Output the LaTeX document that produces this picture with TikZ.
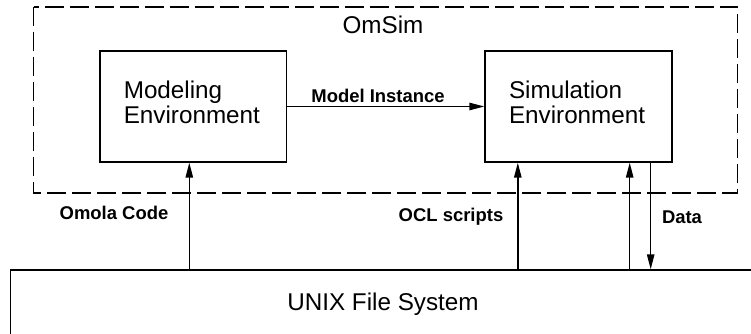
\documentclass[tikz,border=0pt]{standalone}
\usepackage{fontspec}
\setmainfont{Liberation Sans}
\usetikzlibrary{arrows.meta}
\tikzset{
  envS/.style  ={draw=black, line width=0.8pt, align=left, text width=2.78cm, inner xsep=0.48cm, minimum height=2.22cm, text depth=0.66cm, font=\fontsize{13.8}{13.8}\selectfont},
  omsimS/.style={draw=black, line width=1.1pt, dash pattern=on 0.38cm off 0.12cm},
  fsS/.style   ={draw=black, line width=0.8pt, minimum width=14.9cm, minimum height=1.36cm, font=\fontsize{13.8}{16}\selectfont},
  titleS/.style={font=\fontsize{13.8}{16}\selectfont},
  lblS/.style  ={font=\bfseries\fontsize{10.5}{12}\selectfont, inner sep=2pt},
  arrS/.style  ={line width=0.8pt, -{Triangle[length=8.5pt, width=4.2pt]}},
}

\begin{document}
\begin{tikzpicture}[x=0.02cm, y=-0.02cm]
  \useasboundingbox (0,0) rectangle (751,334);
  \clip (0,0) rectangle (751,334);
  % OmSim frame
  \draw[omsimS] (33.5,7) rectangle (737.5,193);
  \node[titleS] (omsim) at (383,25) {OmSim};
  \node[envS] (mod) at (193.3,106.5) {Modeling\\Environment};
  \node[envS] (sim) at (578.5,106.5) {Simulation\\Environment};
  \draw[arrS] (mod) -- node[lblS, above, pos=0.46] (inst) {Model Instance} (sim);
  % file system
  \node[fsS] (fs) at (383,304) {UNIX File System};
  \coordinate (modIn) at ([xshift=-0.08cm]mod.south);
  \coordinate (oclIn) at ([xshift=0.67cm]sim.south west);
  \coordinate (simIn) at ([xshift=-0.86cm]sim.south east);
  \coordinate (simOut) at ([xshift=-0.44cm]sim.south east);
  \draw[arrS] (modIn |- fs.north) -- (modIn);
  \draw[arrS] (oclIn |- fs.north) -- (oclIn);
  \draw[arrS] (simIn |- fs.north) -- (simIn);
  \draw[arrS] (simOut) -- (simOut |- fs.north);
  \node[lblS] (omola) at (114,213) {Omola Code};
  \node[lblS] (ocl) at (451,217) {OCL scripts};
  \node[lblS] (data) at (682,217) {Data};
\end{tikzpicture}
\end{document}
